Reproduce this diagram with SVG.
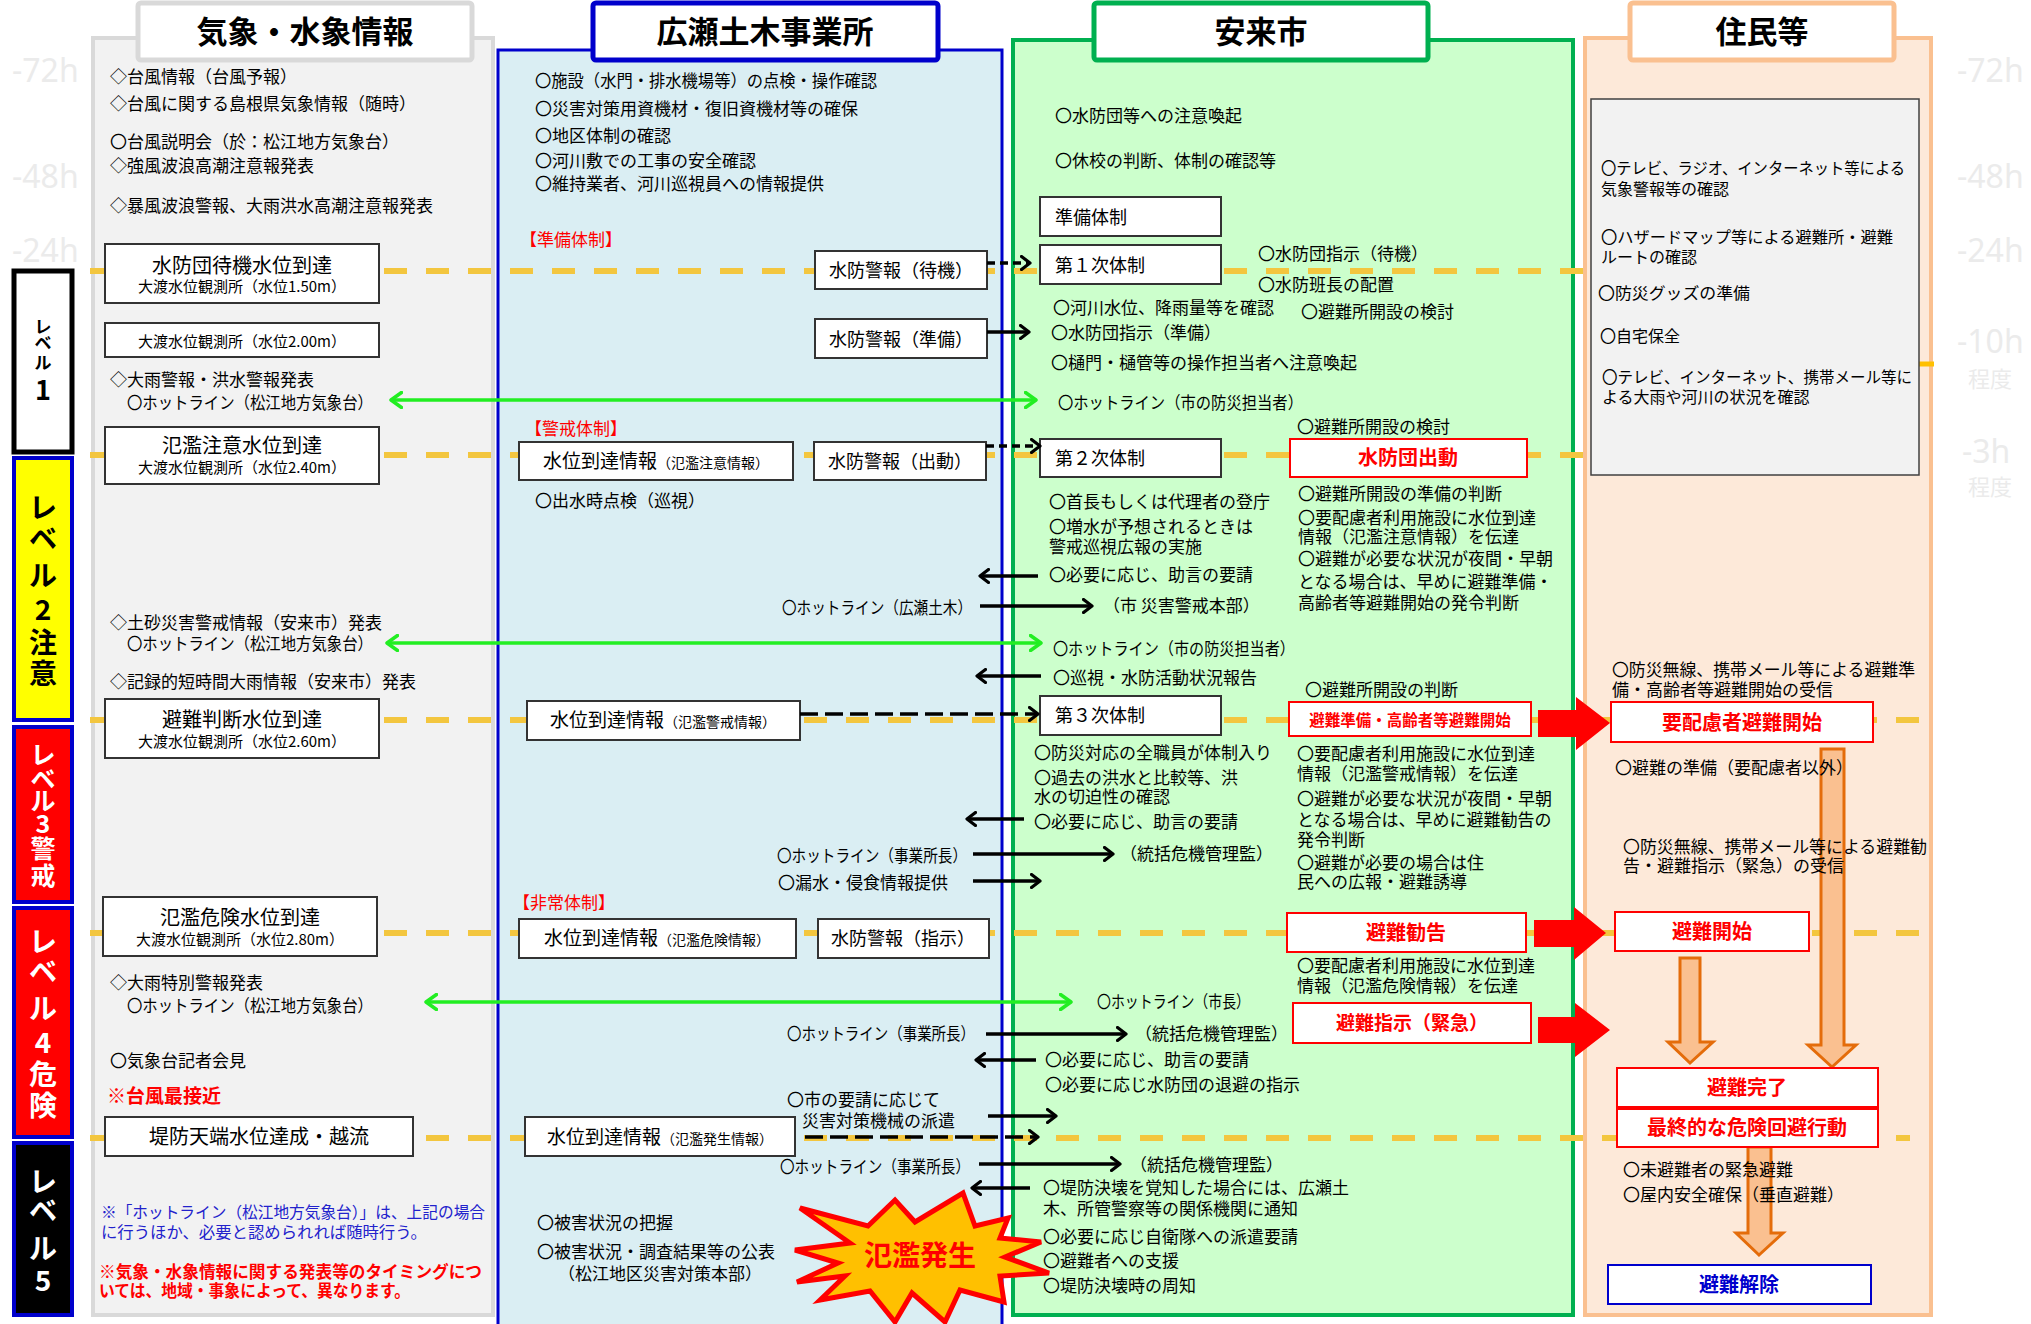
<svg xmlns="http://www.w3.org/2000/svg" width="2031" height="1324" viewBox="0 0 2031 1324">
<defs>
<style>
svg{font-family:"Noto Sans CJK JP","Noto Sans",sans-serif;font-size:17px}
text{fill:#000}
.ti{font-size:31px;font-weight:bold;text-anchor:middle}
.tm{fill:#ebebeb;font-family:"Noto Sans",sans-serif;font-size:32px}
.tm2{fill:#ebebeb;font-size:22px}
.bx{fill:#fff;stroke:#333;stroke-width:2}
.rbx{fill:#fff;stroke:#ff0000;stroke-width:2}
.c{text-anchor:middle}
.b18{font-size:18px}
.b20{font-size:20px}
.s15{font-size:15px}
.s16{font-size:16px}
.rt{fill:#ff0000;font-weight:bold;text-anchor:middle;font-size:20px}
.red{fill:#ff0000}
.lv{stroke:#f3c63f;stroke-width:6;stroke-dasharray:23 19;fill:none}
.ar{stroke:#000;stroke-width:3.5;fill:none;marker-end:url(#ab)}
.ad{stroke:#000;stroke-width:3.5;fill:none;stroke-dasharray:18 7;marker-end:url(#ab)}
.ag{stroke:#22ee22;stroke-width:3.5;fill:none;marker-start:url(#ag);marker-end:url(#ag)}
.oa{fill:#fac090;stroke:#e46c0a;stroke-width:3}
.lvt{font-weight:bold;text-anchor:middle;font-size:28px}
.w{fill:#fff}
</style>
<marker id="ab" viewBox="0 0 12 16" refX="10" refY="8" markerWidth="12" markerHeight="16" markerUnits="userSpaceOnUse" orient="auto">
<path d="M1.5,1.5 L10,8 L1.5,14.5" fill="none" stroke="#000" stroke-width="3.2" stroke-linecap="round" stroke-linejoin="round"/>
</marker>
<marker id="ag" viewBox="0 0 14 18" refX="12" refY="9" markerWidth="14" markerHeight="18" markerUnits="userSpaceOnUse" orient="auto-start-reverse">
<path d="M1.5,1.5 L12,9 L1.5,16.5" fill="none" stroke="#22ee22" stroke-width="3.5" stroke-linecap="round" stroke-linejoin="round"/>
</marker>
</defs>
<rect width="2031" height="1324" fill="#fff"/>

<!-- time marks -->
<g id="timemarks">
<text class="tm" x="12" y="82">-72h</text>
<text class="tm" x="12" y="188">-48h</text>
<text class="tm" x="12" y="262">-24h</text>
<text class="tm" x="1957" y="82">-72h</text>
<text class="tm" x="1957" y="188">-48h</text>
<text class="tm" x="1957" y="262">-24h</text>
<text class="tm" x="1957" y="353">-10h</text>
<text class="tm2" x="1968" y="387">程度</text>
<text class="tm" x="1962" y="463">-3h</text>
<text class="tm2" x="1968" y="495">程度</text>
</g>

<!-- level boxes -->
<g id="level1">
<rect x="14" y="271" width="58" height="181" fill="#fff" stroke="#000" stroke-width="5"/>
<text class="lvt" x="43" y="333" style="font-size:17px">レ</text>
<text class="lvt" x="43" y="349" style="font-size:17px">ベ</text>
<text class="lvt" x="43" y="369" style="font-size:17px">ル</text>
<text class="lvt" x="43" y="400" style="font-size:27px">1</text>
</g>
<g id="level2">
<rect x="14" y="458" width="58" height="262" fill="#ffff00" stroke="#0000cc" stroke-width="4"/>
<text class="lvt" x="43" y="518">レ</text>
<text class="lvt" x="43" y="549">ベ</text>
<text class="lvt" x="43" y="586">ル</text>
<text class="lvt" x="43" y="620">2</text>
<text class="lvt" x="43" y="653">注</text>
<text class="lvt" x="43" y="684">意</text>
</g>
<g id="level3">
<rect x="14" y="727" width="58" height="175" fill="#ff0000" stroke="#0000cc" stroke-width="4"/>
<text class="lvt w" x="43" y="764" style="font-size:25px">レ</text>
<text class="lvt w" x="43" y="788" style="font-size:25px">ベ</text>
<text class="lvt w" x="43" y="810" style="font-size:25px">ル</text>
<text class="lvt w" x="43" y="833" style="font-size:25px">3</text>
<text class="lvt w" x="43" y="858" style="font-size:25px">警</text>
<text class="lvt w" x="43" y="885" style="font-size:25px">戒</text>
</g>
<g id="level4">
<rect x="14" y="908" width="58" height="229" fill="#ff0000" stroke="#0000cc" stroke-width="4"/>
<text class="lvt w" x="43" y="952">レ</text>
<text class="lvt w" x="43" y="982">ベ</text>
<text class="lvt w" x="43" y="1019">ル</text>
<text class="lvt w" x="43" y="1053">4</text>
<text class="lvt w" x="43" y="1085">危</text>
<text class="lvt w" x="43" y="1116">険</text>
</g>
<g id="level5">
<rect x="14" y="1143" width="58" height="172" fill="#000" stroke="#0000cc" stroke-width="4"/>
<text class="lvt w" x="43" y="1192">レ</text>
<text class="lvt w" x="43" y="1221">ベ</text>
<text class="lvt w" x="43" y="1259">ル</text>
<text class="lvt w" x="43" y="1291">5</text>
</g>

<!-- panels -->
<g id="panel-kishou">
<rect x="93" y="38" width="400" height="1277" fill="#f2f2f2" stroke="#d9d9d9" stroke-width="4"/>
</g>
<g id="panel-hirose">
<rect x="498" y="50" width="504" height="1290" fill="#daeef3" stroke="#0000cc" stroke-width="3"/>
</g>
<g id="panel-yasugi">
<rect x="1013" y="40" width="560" height="1275" fill="#ccffcc" stroke="#00b050" stroke-width="4"/>
</g>
<g id="panel-jumin">
<rect x="1585" y="38" width="346" height="1277" fill="#fde9d9" stroke="#fac090" stroke-width="4"/>
</g>

<!-- level dashed lines -->
<g id="level-lines">
<line class="lv" x1="90" y1="271" x2="1934" y2="271"/>
<line class="lv" x1="90" y1="455" x2="1934" y2="455"/>
<line class="lv" x1="90" y1="720" x2="1920" y2="720"/>
<line class="lv" x1="90" y1="933" x2="1920" y2="933"/>
<line class="lv" x1="90" y1="1138" x2="1910" y2="1138"/>
<line x1="1919" y1="364" x2="1934" y2="364" stroke="#ffc000" stroke-width="5"/>
</g>

<!-- titles -->
<g id="title-kishou">
<rect x="138" y="3" width="334" height="57" rx="3" fill="#fff" stroke="#d9d9d9" stroke-width="5"/>
<text class="ti" x="305" y="43">気象・水象情報</text>
</g>
<g id="title-hirose">
<rect x="593" y="3" width="345" height="57" rx="3" fill="#fff" stroke="#0000cc" stroke-width="5"/>
<text class="ti" x="765" y="43">広瀬土木事業所</text>
</g>
<g id="title-yasugi">
<rect x="1094" y="3" width="334" height="57" rx="3" fill="#fff" stroke="#00b050" stroke-width="5"/>
<text class="ti" x="1261" y="43">安来市</text>
</g>
<g id="title-jumin">
<rect x="1630" y="3" width="264" height="57" rx="3" fill="#fff" stroke="#fac090" stroke-width="5"/>
<text class="ti" x="1762" y="43">住民等</text>
</g>

<!-- 気象・水象情報 column -->
<g id="kishou-texts">
<text x="110" y="83">◇台風情報（台風予報）</text>
<text x="110" y="110">◇台風に関する島根県気象情報（随時）</text>
<text x="110" y="148">〇台風説明会（於：松江地方気象台）</text>
<text x="110" y="172">◇強風波浪高潮注意報発表</text>
<text x="110" y="212">◇暴風波浪警報、大雨洪水高潮注意報発表</text>
<text x="110" y="386">◇大雨警報・洪水警報発表</text>
<text x="127" y="409" textLength="246" lengthAdjust="spacingAndGlyphs">〇ホットライン（松江地方気象台）</text>
<text x="110" y="629">◇土砂災害警戒情報（安来市）発表</text>
<text x="127" y="650" textLength="246" lengthAdjust="spacingAndGlyphs">〇ホットライン（松江地方気象台）</text>
<text x="110" y="688">◇記録的短時間大雨情報（安来市）発表</text>
<text x="110" y="989">◇大雨特別警報発表</text>
<text x="127" y="1012" textLength="246" lengthAdjust="spacingAndGlyphs">〇ホットライン（松江地方気象台）</text>
<text x="110" y="1067">〇気象台記者会見</text>
<text x="107" y="1103" class="red" font-weight="bold" font-size="19">※台風最接近</text>
<text x="101" y="1218" style="fill:#2222cc" font-size="16" textLength="384" lengthAdjust="spacingAndGlyphs">※「ホットライン（松江地方気象台）」は、上記の場合</text>
<text x="101" y="1238" style="fill:#2222cc" font-size="16" textLength="326" lengthAdjust="spacingAndGlyphs">に行うほか、必要と認められれば随時行う。</text>
<text x="99" y="1278" class="red" font-weight="bold" font-size="16.5" textLength="383" lengthAdjust="spacingAndGlyphs">※気象・水象情報に関する発表等のタイミングにつ</text>
<text x="99" y="1297" class="red" font-weight="bold" font-size="16.5" textLength="311" lengthAdjust="spacingAndGlyphs">いては、地域・事象によって、異なります。</text>
</g>
<g id="k-box1">
<rect class="bx" x="105" y="244" width="274" height="59"/>
<text class="c b20" x="242" y="273">水防団待機水位到達</text>
<text class="c s15" x="242" y="292">大渡水位観測所（水位1.50m）</text>
</g>
<g id="k-box2">
<rect class="bx" x="105" y="323" width="274" height="34"/>
<text class="c s15" x="242" y="347">大渡水位観測所（水位2.00m）</text>
</g>
<g id="k-box3">
<rect class="bx" x="105" y="427" width="274" height="57"/>
<text class="c b20" x="242" y="453">氾濫注意水位到達</text>
<text class="c s15" x="242" y="473">大渡水位観測所（水位2.40m）</text>
</g>
<g id="k-box4">
<rect class="bx" x="105" y="699" width="274" height="59"/>
<text class="c b20" x="242" y="727">避難判断水位到達</text>
<text class="c s15" x="242" y="747">大渡水位観測所（水位2.60m）</text>
</g>
<g id="k-box5">
<rect class="bx" x="103" y="897" width="274" height="59"/>
<text class="c b20" x="240" y="925">氾濫危険水位到達</text>
<text class="c s15" x="240" y="945">大渡水位観測所（水位2.80m）</text>
</g>
<g id="k-box6">
<rect class="bx" x="105" y="1117" width="308" height="39"/>
<text class="c b20" x="259" y="1144">堤防天端水位達成・越流</text>
</g>

<!-- 広瀬土木事業所 column -->
<g id="hirose-texts">
<text x="535" y="87" textLength="342" lengthAdjust="spacingAndGlyphs">〇施設（水門・排水機場等）の点検・操作確認</text>
<text x="535" y="115">〇災害対策用資機材・復旧資機材等の確保</text>
<text x="535" y="142">〇地区体制の確認</text>
<text x="535" y="167">〇河川敷での工事の安全確認</text>
<text x="535" y="190">〇維持業者、河川巡視員への情報提供</text>
<text x="520" y="246" class="red">【準備体制】</text>
<text x="525" y="435" class="red">【警戒体制】</text>
<text x="535" y="507">〇出水時点検（巡視）</text>
<text x="782" y="614" textLength="190" lengthAdjust="spacingAndGlyphs">〇ホットライン（広瀬土木）</text>
<text x="777" y="862" textLength="190" lengthAdjust="spacingAndGlyphs">〇ホットライン（事業所長）</text>
<text x="778" y="889">〇漏水・侵食情報提供</text>
<text x="513" y="909" class="red">【非常体制】</text>
<text x="787" y="1040" textLength="188" lengthAdjust="spacingAndGlyphs">〇ホットライン（事業所長）</text>
<text x="787" y="1106">〇市の要請に応じて</text>
<text x="802" y="1127">災害対策機械の派遣</text>
<text x="780" y="1173" textLength="190" lengthAdjust="spacingAndGlyphs">〇ホットライン（事業所長）</text>
<text x="537" y="1229">〇被害状況の把握</text>
<text x="537" y="1258">〇被害状況・調査結果等の公表</text>
<text x="558" y="1280">（松江地区災害対策本部）</text>
</g>
<g id="h-suibo-taiki">
<rect class="bx" x="815" y="251" width="172" height="38"/>
<text class="c b18" x="901" y="277">水防警報（待機）</text>
</g>
<g id="h-suibo-junbi">
<rect class="bx" x="815" y="319" width="172" height="39"/>
<text class="c b18" x="901" y="346">水防警報（準備）</text>
</g>
<g id="h-suii-chui">
<rect class="bx" x="519" y="442" width="274" height="38"/>
<text class="c" x="656" y="468" font-size="19">水位到達情報<tspan font-size="14">（氾濫注意情報）</tspan></text>
</g>
<g id="h-suibo-shutsudo">
<rect class="bx" x="814" y="442" width="172" height="38"/>
<text class="c b18" x="900" y="468">水防警報（出動）</text>
</g>
<g id="h-suii-keikai">
<rect class="bx" x="527" y="701" width="273" height="39"/>
<text class="c" x="663" y="727" font-size="19">水位到達情報<tspan font-size="14">（氾濫警戒情報）</tspan></text>
</g>
<g id="h-suii-kiken">
<rect class="bx" x="519" y="919" width="277" height="39"/>
<text class="c" x="657" y="945" font-size="19">水位到達情報<tspan font-size="14">（氾濫危険情報）</tspan></text>
</g>
<g id="h-suibo-shiji">
<rect class="bx" x="818" y="919" width="171" height="39"/>
<text class="c b18" x="903" y="945">水防警報（指示）</text>
</g>
<g id="h-suii-hassei">
<rect class="bx" x="525" y="1117" width="270" height="39"/>
<text class="c" x="660" y="1144" font-size="19">水位到達情報<tspan font-size="14">（氾濫発生情報）</tspan></text>
</g>
<g id="hanran-hassei">
<polygon points="795,1250 850,1243 800,1208 868,1226 895,1200 915,1222 963,1193 975,1226 1008,1218 1000,1238 1041,1242 1005,1257 1049,1273 1000,1276 1004,1302 960,1290 945,1322 912,1293 895,1322 870,1291 820,1300 845,1276 797,1282 838,1263" fill="#ffc000" stroke="#ff0000" stroke-width="5" stroke-linejoin="miter"/>
<text class="c red" x="920" y="1266" font-size="28" font-weight="bold">氾濫発生</text>
</g>

<!-- 安来市 column -->
<g id="yasugi-texts">
<text x="1055" y="122">〇水防団等への注意喚起</text>
<text x="1055" y="167">〇休校の判断、体制の確認等</text>
<text x="1258" y="260">〇水防団指示（待機）</text>
<text x="1258" y="291">〇水防班長の配置</text>
<text x="1053" y="314">〇河川水位、降雨量等を確認</text>
<text x="1301" y="318">〇避難所開設の検討</text>
<text x="1051" y="339">〇水防団指示（準備）</text>
<text x="1051" y="369">〇樋門・樋管等の操作担当者へ注意喚起</text>
<text x="1058" y="409" textLength="245" lengthAdjust="spacingAndGlyphs">〇ホットライン（市の防災担当者）</text>
<text x="1297" y="433">〇避難所開設の検討</text>
<text x="1049" y="508">〇首長もしくは代理者の登庁</text>
<text x="1049" y="533">〇増水が予想されるときは</text>
<text x="1049" y="553">警戒巡視広報の実施</text>
<text x="1049" y="581">〇必要に応じ、助言の要請</text>
<text x="1103" y="612">（市 災害警戒本部）</text>
<text x="1298" y="500">〇避難所開設の準備の判断</text>
<text x="1298" y="524">〇要配慮者利用施設に水位到達</text>
<text x="1298" y="543">情報（氾濫注意情報）を伝達</text>
<text x="1298" y="565">〇避難が必要な状況が夜間・早朝</text>
<text x="1298" y="588">となる場合は、早めに避難準備・</text>
<text x="1298" y="609">高齢者等避難開始の発令判断</text>
<text x="1053" y="655" textLength="242" lengthAdjust="spacingAndGlyphs">〇ホットライン（市の防災担当者）</text>
<text x="1053" y="684">〇巡視・水防活動状況報告</text>
<text x="1305" y="696">〇避難所開設の判断</text>
<text x="1034" y="759">〇防災対応の全職員が体制入り</text>
<text x="1034" y="784">〇過去の洪水と比較等、洪</text>
<text x="1034" y="803">水の切迫性の確認</text>
<text x="1034" y="828">〇必要に応じ、助言の要請</text>
<text x="1120" y="860">（統括危機管理監）</text>
<text x="1297" y="760">〇要配慮者利用施設に水位到達</text>
<text x="1297" y="780">情報（氾濫警戒情報）を伝達</text>
<text x="1297" y="805">〇避難が必要な状況が夜間・早朝</text>
<text x="1297" y="826">となる場合は、早めに避難勧告の</text>
<text x="1297" y="846">発令判断</text>
<text x="1297" y="869">〇避難が必要の場合は住</text>
<text x="1297" y="888">民への広報・避難誘導</text>
<text x="1297" y="972">〇要配慮者利用施設に水位到達</text>
<text x="1297" y="992">情報（氾濫危険情報）を伝達</text>
<text x="1097" y="1008" textLength="153" lengthAdjust="spacingAndGlyphs">〇ホットライン（市長）</text>
<text x="1135" y="1040">（統括危機管理監）</text>
<text x="1045" y="1066">〇必要に応じ、助言の要請</text>
<text x="1045" y="1091">〇必要に応じ水防団の退避の指示</text>
<text x="1130" y="1171">（統括危機管理監）</text>
<text x="1043" y="1194">〇堤防決壊を覚知した場合には、広瀬土</text>
<text x="1043" y="1215">木、所管警察等の関係機関に通知</text>
<text x="1043" y="1243">〇必要に応じ自衛隊への派遣要請</text>
<text x="1043" y="1267">〇避難者への支援</text>
<text x="1043" y="1292">〇堤防決壊時の周知</text>
</g>
<g id="y-junbi">
<rect class="bx" x="1040" y="197" width="181" height="39"/>
<text class="b18" x="1055" y="224">準備体制</text>
</g>
<g id="y-dai1">
<rect class="bx" x="1040" y="245" width="181" height="39"/>
<text class="b18" x="1055" y="272">第１次体制</text>
</g>
<g id="y-dai2">
<rect class="bx" x="1040" y="439" width="181" height="38"/>
<text class="b18" x="1055" y="465">第２次体制</text>
</g>
<g id="y-dai3">
<rect class="bx" x="1040" y="696" width="181" height="39"/>
<text class="b18" x="1055" y="722">第３次体制</text>
</g>
<g id="y-suibodan">
<rect class="rbx" x="1290" y="439" width="237" height="38"/>
<text class="rt" x="1408" y="465">水防団出動</text>
</g>
<g id="y-hinan-junbi">
<rect class="rbx" x="1289" y="702" width="242" height="34"/>
<text class="rt" x="1410" y="726" style="font-size:15.5px">避難準備・高齢者等避難開始</text>
</g>
<g id="y-kankoku">
<rect class="rbx" x="1287" y="913" width="239" height="39"/>
<text class="rt" x="1406" y="940">避難勧告</text>
</g>
<g id="y-shiji">
<rect class="rbx" x="1293" y="1003" width="238" height="40"/>
<text class="rt" x="1412" y="1030" style="font-size:19px">避難指示（緊急）</text>
</g>

<!-- 住民等 column -->
<g id="jumin-graybox">
<rect x="1591" y="99" width="328" height="376" fill="#f2f2f2" stroke="#404040" stroke-width="1.5"/>
<text class="s16" x="1601" y="174" textLength="304" lengthAdjust="spacingAndGlyphs">〇テレビ、ラジオ、インターネット等による</text>
<text class="s16" x="1601" y="195">気象警報等の確認</text>
<text class="s16" x="1601" y="243" textLength="292" lengthAdjust="spacingAndGlyphs">〇ハザードマップ等による避難所・避難</text>
<text class="s16" x="1601" y="263">ルートの確認</text>
<text class="s16" x="1598" y="299" textLength="152" lengthAdjust="spacingAndGlyphs">〇防災グッズの準備</text>
<text class="s16" x="1600" y="342">〇自宅保全</text>
<text class="s16" x="1602" y="383" textLength="310" lengthAdjust="spacingAndGlyphs">〇テレビ、インターネット、携帯メール等に</text>
<text class="s16" x="1602" y="403">よる大雨や河川の状況を確認</text>
</g>
<g id="jumin-arrows">
<polygon class="oa" points="1821,749 1844,749 1844,1045 1856,1045 1832,1067 1808,1045 1821,1045"/>
<polygon class="oa" points="1680,958 1700,958 1700,1042 1713,1042 1690,1063 1668,1042 1680,1042"/>
<polygon class="oa" points="1748,1147 1771,1147 1771,1233 1783,1233 1759,1255 1736,1233 1748,1233"/>
</g>
<g id="jumin-texts">
<text x="1612" y="676" textLength="303" lengthAdjust="spacingAndGlyphs">〇防災無線、携帯メール等による避難準</text>
<text x="1612" y="696">備・高齢者等避難開始の受信</text>
<text x="1615" y="774">〇避難の準備（要配慮者以外）</text>
<text x="1623" y="853" textLength="304" lengthAdjust="spacingAndGlyphs">〇防災無線、携帯メール等による避難勧</text>
<text x="1623" y="872">告・避難指示（緊急）の受信</text>
<text x="1623" y="1176">〇未避難者の緊急避難</text>
<text x="1623" y="1201">〇屋内安全確保（垂直避難）</text>
</g>
<g id="j-youhairyo">
<rect class="rbx" x="1611" y="702" width="262" height="40"/>
<text class="rt" x="1742" y="730">要配慮者避難開始</text>
</g>
<g id="j-hinan-kaishi">
<rect class="rbx" x="1615" y="912" width="194" height="39"/>
<text class="rt" x="1712" y="939">避難開始</text>
</g>
<g id="j-hinan-kanryo">
<rect class="rbx" x="1617" y="1068" width="261" height="39"/>
<text class="rt" x="1747" y="1095">避難完了</text>
</g>
<g id="j-saishuteki">
<rect class="rbx" x="1617" y="1109" width="261" height="38"/>
<text class="rt" x="1747" y="1135">最終的な危険回避行動</text>
</g>
<g id="j-kaijo">
<rect x="1608" y="1265" width="263" height="39" fill="#fff" stroke="#0000cc" stroke-width="2"/>
<text class="c" x="1739" y="1292" font-size="20" font-weight="bold" style="fill:#0000cc">避難解除</text>
</g>

<!-- connectors -->
<g id="connectors">
<line class="ag" x1="391" y1="400" x2="1036" y2="400"/>
<line class="ag" x1="387" y1="643" x2="1041" y2="643"/>
<line class="ag" x1="426" y1="1002" x2="1071" y2="1002"/>

<line class="ad" style="stroke-dasharray:8 5" x1="987" y1="263" x2="1030" y2="263"/>
<line class="ar" x1="987" y1="332" x2="1029" y2="332"/>
<line class="ad" style="stroke-dasharray:8 5" x1="986" y1="446" x2="1040" y2="446"/>
<line class="ar" x1="1038" y1="576" x2="980" y2="576"/>
<line class="ar" x1="980" y1="606" x2="1092" y2="606"/>
<line class="ar" x1="1041" y1="676" x2="977" y2="676"/>
<line class="ad" x1="800" y1="714" x2="1038" y2="714"/>
<line class="ar" x1="1024" y1="819" x2="967" y2="819"/>
<line class="ar" x1="973" y1="854" x2="1113" y2="854"/>
<line class="ar" x1="973" y1="881" x2="1040" y2="881"/>
<line class="ar" x1="986" y1="1034" x2="1126" y2="1034"/>
<line class="ar" x1="1036" y1="1060" x2="976" y2="1060"/>
<line class="ar" x1="988" y1="1116" x2="1056" y2="1116"/>
<line class="ad" x1="805" y1="1137" x2="1038" y2="1137"/>
<line class="ar" x1="979" y1="1164" x2="1120" y2="1164"/>
<line class="ar" x1="1030" y1="1188" x2="972" y2="1188"/>

<polygon fill="#ff0000" points="1538,710 1576,710 1576,697 1610,723 1576,750 1576,737 1538,737"/>
<polygon fill="#ff0000" points="1534,920 1574,920 1574,907 1606,933 1574,960 1574,947 1534,947"/>
<polygon fill="#ff0000" points="1538,1017 1575,1017 1575,1003 1610,1030 1575,1057 1575,1043 1538,1043"/>
</g>
</svg>
